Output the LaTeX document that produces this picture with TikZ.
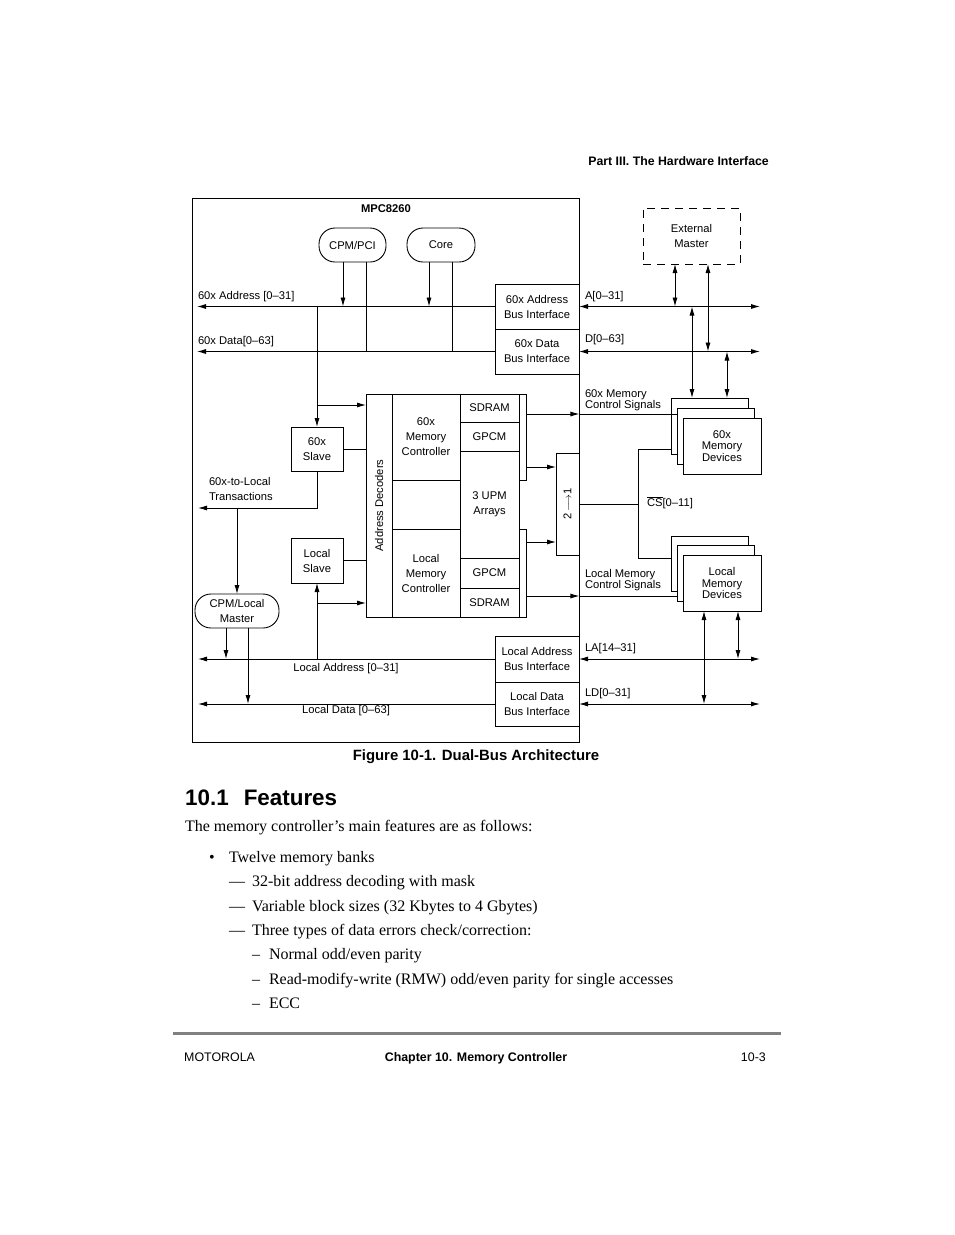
\documentclass[tikz,border=0pt]{standalone}
\usepackage{fontspec}
\setmainfont{Liberation Serif}
\setsansfont{Liberation Sans}
\usetikzlibrary{arrows.meta}
\newcommand\lblf{\sffamily\fontsize{11.2}{15}\selectfont}
\newcommand\devf{\sffamily\fontsize{11.2}{11.2}\selectfont}
\newcommand\bodyf{\rmfamily\fontsize{16}{19}\selectfont}
\begin{document}
\begin{tikzpicture}[x=1pt,y=-1pt,
  box/.style={draw, line width=0.9pt, fill=white, inner sep=0pt, outer sep=0pt, align=center, font=\lblf},
  devbox/.style={box, font=\devf},
  pill/.style={box, rounded corners=16pt},
  lbl/.style={inner sep=0pt, outer sep=0pt, font=\lblf, align=left},
  ln/.style={line width=0.9pt},
  ar/.style={ln, -{Latex[length=9pt,width=5pt]}},
  dar/.style={ln, {Latex[length=9pt,width=5pt]}-{Latex[length=9pt,width=5pt]}},
  body/.style={inner sep=0pt, outer sep=0pt, anchor=base west, font=\bodyf}
]
\useasboundingbox (0,0) rectangle (954,1235);
\fill[white] (0,0) rectangle (954,1235);

% page header
\node[inner sep=0pt, anchor=base east, font=\sffamily\bfseries\fontsize{12.3}{14}\selectfont] (hdr) at (769,165.5) {Part III. The Hardware Interface};

% outer chip box
\node[draw, line width=0.9pt, inner sep=0pt, minimum width=387pt, minimum height=544pt] (mpc) at (385.5,470) {};
\node[inner sep=0pt, font=\sffamily\bfseries\fontsize{11.2}{13}\selectfont] (mpcl) at (386,209) {MPC8260};

% top masters
\node[pill, minimum width=67pt, minimum height=34pt] (cpmpci) at (352.5,245) {CPM/PCI};
\node[pill, minimum width=68pt, minimum height=34pt] (core) at (441,245) {Core};

% 60x bus interfaces
\node[box, minimum width=84pt, minimum height=45pt] (addrIF) at (537,306.5) {60x Address\\Bus Interface};
\node[box, minimum width=84pt, minimum height=45pt] (dataIF) at (537,351.5) {60x Data\\Bus Interface};

% external master
\node[box, dash pattern=on 8pt off 6pt, minimum width=97pt, minimum height=56pt] (extm) at (691.5,236) {External\\Master};

% slaves and local master
\node[box, minimum width=52pt, minimum height=44pt] (slave60) at (317,449) {60x\\Slave};
\node[box, minimum width=52pt, minimum height=45pt] (lslave) at (317,560.5) {Local\\Slave};
\node[pill, minimum width=84pt, minimum height=34pt] (cpmlm) at (237,611) {CPM/Local\\Master};

% memory controller block
\node[box, minimum width=26pt, minimum height=223pt] (addec) at (379,505.5) {};
\node[lbl, rotate=90] (addecl) at (379,505.5) {Address Decoders};
\node[box, minimum width=68pt, minimum height=86pt] (mc60) at (426,437) {60x\\Memory\\Controller};
\node[box, minimum width=68pt, minimum height=49pt] (mcmid) at (426,504.5) {};
\node[box, minimum width=68pt, minimum height=88pt] (mcloc) at (426,573) {Local\\Memory\\Controller};
\node[box, minimum width=59pt, minimum height=28pt] (sdramA) at (489.5,408) {SDRAM};
\node[box, minimum width=59pt, minimum height=29pt] (gpcmA) at (489.5,436.5) {GPCM};
\node[box, minimum width=59pt, minimum height=107pt] (upm) at (489.5,504.5) {3 UPM\\Arrays};
\node[box, minimum width=59pt, minimum height=30pt] (gpcmB) at (489.5,573) {GPCM};
\node[box, minimum width=59pt, minimum height=29pt] (sdramB) at (489.5,602.5) {SDRAM};
\node[box, minimum width=7pt, minimum height=86pt] (stripA) at (522.5,437) {};
\node[box, minimum width=7pt, minimum height=88pt] (stripB) at (522.5,573) {};
\node[box, minimum width=23pt, minimum height=102pt] (mux) at (567.5,504) {};
\node[lbl, rotate=90] (muxl) at (567.5,504) {2\,$\longrightarrow$1};

% local bus interfaces
\node[box, minimum width=84pt, minimum height=46pt] (laIF) at (537,659) {Local Address\\Bus Interface};
\node[box, minimum width=84pt, minimum height=44pt] (ldIF) at (537,704) {Local Data\\Bus Interface};

% memory device stacks
\node[devbox, minimum width=77pt, minimum height=56pt] (b60) at (709.5,426) {};
\node[devbox, minimum width=77pt, minimum height=56pt] (m60) at (715.5,436) {};
\node[devbox, minimum width=78pt, minimum height=56pt] (f60) at (722,446) {60x\\Memory\\Devices};
\node[devbox, minimum width=77pt, minimum height=55pt] (bL) at (709.5,563.5) {};
\node[devbox, minimum width=77pt, minimum height=56pt] (mL) at (715.5,573) {};
\node[devbox, minimum width=78pt, minimum height=56pt] (fL) at (722,583) {Local\\Memory\\Devices};

% helper coordinates
\coordinate (aL) at (197,306.5);
\coordinate (dL) at (197,351.5);
\coordinate (laL) at (198,659);
\coordinate (ldL) at (198,704);
\coordinate (aR) at (760,306.5);
\coordinate (dR) at (760,351.5);
\coordinate (laR) at (760,659);
\coordinate (ldR) at (760,704);
\coordinate (tL) at (198,508);
\coordinate (c343) at (343,0);
\coordinate (c366) at (366,0);
\coordinate (c429) at (429,0);
\coordinate (c452) at (452,0);
\coordinate (c226) at (226,0);
\coordinate (c248) at (248,0);
\coordinate (c638) at (638,0);
\coordinate (c675) at (675,0);
\coordinate (c708) at (708,0);
\coordinate (c692) at (692,0);
\coordinate (c727) at (727,0);
\coordinate (c704) at (704,0);
\coordinate (c738) at (738,0);
\coordinate (r405) at (0,405);
\coordinate (r414) at (0,414);
\coordinate (r467) at (0,467);
\coordinate (r542) at (0,542);
\coordinate (r596) at (0,596);
\coordinate (r603) at (0,603);
\coordinate (r449) at (0,449);
\coordinate (r558) at (0,558);

% buses
\draw[ar] (addrIF.west) -- (aL);
\draw[ar] (dataIF.west) -- (dL);
\draw[ar] (laIF.west) -- (laL);
\draw[ar] (ldIF.west) -- (ldL);
\draw[dar] (addrIF.east) -- (aR);
\draw[dar] (dataIF.east) -- (dR);
\draw[dar] (laIF.east) -- (laR);
\draw[dar] (ldIF.east) -- (ldR);

% masters to buses
\draw[ar] (cpmpci.south -| c343) -- (c343 |- addrIF.west);
\draw[ln] (cpmpci.south -| c366) -- (c366 |- dataIF.west);
\draw[ar] (core.south -| c429) -- (c429 |- addrIF.west);
\draw[ln] (core.south -| c452) -- (c452 |- dataIF.west);

% 60x slave
\draw[ar] (slave60.north |- addrIF.west) -- (slave60.north);
\draw[ar] (slave60.north |- r405) -- (addec.west |- r405);
\draw[ln] (slave60.east) -- (addec.west |- slave60.east);
\draw[ar] (slave60.south) -- (slave60.south |- tL) -- (tL);
\draw[ar] (cpmlm.north |- tL) -- (cpmlm.north);

% local master
\draw[ar] (cpmlm.south -| c226) -- (c226 |- laIF.west);
\draw[ar] (cpmlm.south -| c248) -- (c248 |- ldIF.west);

% local slave
\draw[ar] (lslave.south |- laIF.west) -- (lslave.south);
\draw[ar] (lslave.south |- r603) -- (addec.west |- r603);
\draw[ln] (lslave.east) -- (addec.west |- lslave.east);

% memory control signals
\draw[ar] (stripA.east |- r414) -- (mpc.east |- r414);
\draw[ln] (mpc.east |- r414) -- (m60.west |- r414);
\draw[ar] (stripA.east |- r467) -- (mux.west |- r467);
\draw[ar] (stripB.east |- r542) -- (mux.west |- r542);
\draw[ar] (stripB.east |- r596) -- (mpc.east |- r596);
\draw[ln] (mpc.east |- r596) -- (mL.west |- r596);

% chip selects
\draw[ln] (mux.east) -- (c638 |- mux.east);
\draw[ln] (b60.west |- r449) -- (c638 |- r449) -- (c638 |- r558) -- (bL.west |- r558);

% external connections
\draw[dar] (extm.south -| c675) -- (c675 |- addrIF.east);
\draw[dar] (extm.south -| c708) -- (c708 |- dataIF.east);
\draw[dar] (c692 |- addrIF.east) -- (b60.north -| c692);
\draw[dar] (c727 |- dataIF.east) -- (b60.north -| c727);
\draw[dar] (fL.south -| c704) -- (c704 |- ldIF.east);
\draw[dar] (fL.south -| c738) -- (c738 |- laIF.east);

% labels
\node[lbl, anchor=west] (l60a) at (198,297) {60x Address [0–31]};
\node[lbl, anchor=west] (l60d) at (198,342) {60x Data[0–63]};
\node[lbl, anchor=west] (lA) at (585,297) {A[0–31]};
\node[lbl, anchor=west] (lD) at (585,340) {D[0–63]};
\node[lbl, anchor=west, font=\devf] (lmc60) at (585,400.5) {60x Memory\\Control Signals};
\node[lbl, anchor=west, font=\devf] (lmcl) at (585,580) {Local Memory\\Control Signals};
\node[lbl, anchor=west] (l2loc) at (209,488.5) {60x-to-Local\\Transactions};
\node[lbl] (lla) at (346,668.5) {Local Address [0–31]};
\node[lbl] (lld) at (346,710.5) {Local Data [0–63]};
\node[lbl, anchor=west] (lLA) at (585,649) {LA[14–31]};
\node[lbl, anchor=west] (lLD) at (585,694) {LD[0–31]};
\node[lbl, anchor=west] (lcs) at (647,503) {$\overline{\mbox{CS}}$[0–11]};

% caption and text
\node[inner sep=0pt, anchor=base, font=\sffamily\bfseries\fontsize{14.9}{17}\selectfont] (cap) at (476,760) {Figure 10-1. Dual-Bus Architecture};
\node[inner sep=0pt, anchor=base west, font=\sffamily\bfseries\fontsize{22.4}{26}\selectfont] (h1) at (185,805) {10.1\hspace{15pt}Features};
\node[body] (p1) at (185,831) {The memory controller’s main features are as follows:};
\node[body] (b1) at (209,862) {•};
\node[body] (t1) at (229,862) {Twelve memory banks};
\node[body] (b2) at (229,886) {—};
\node[body] (t2) at (252,886) {32-bit address decoding with mask};
\node[body] (b3) at (229,911) {—};
\node[body] (t3) at (252,911) {Variable block sizes (32 Kbytes to 4 Gbytes)};
\node[body] (b4) at (229,935) {—};
\node[body] (t4) at (252,935) {Three types of data errors check/correction:};
\node[body] (b5) at (252,959) {–};
\node[body] (t5) at (269,959) {Normal odd/even parity};
\node[body] (b6) at (252,984) {–};
\node[body] (t6) at (269,984) {Read-modify-write (RMW) odd/even parity for single accesses};
\node[body] (b7) at (252,1008) {–};
\node[body] (t7) at (269,1008) {ECC};

% footer
\draw[line width=3pt, black!50] (173,1033) -- (781,1033);
\node[inner sep=0pt, anchor=base west, font=\sffamily\fontsize{12.4}{14}\selectfont] (f1) at (184,1061.5) {MOTOROLA};
\node[inner sep=0pt, anchor=base, font=\sffamily\bfseries\fontsize{12.4}{14}\selectfont] (f2) at (476,1061.5) {Chapter 10. Memory Controller};
\node[inner sep=0pt, anchor=base east, font=\sffamily\fontsize{12.4}{14}\selectfont] (f3) at (766,1061.5) {10-3};
\end{tikzpicture}
\end{document}
